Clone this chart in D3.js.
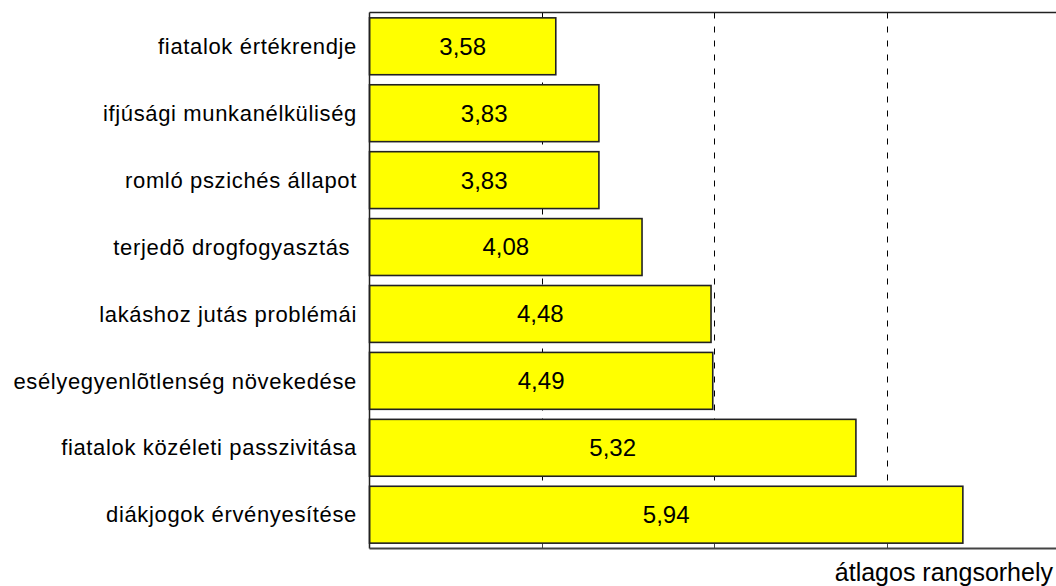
<!DOCTYPE html>
<html><head><meta charset="utf-8">
<script src="https://cdn.jsdelivr.net/npm/d3@7"></script>
<style>body{margin:0;background:#fff}svg{display:block;font-family:"Liberation Sans",Arial,sans-serif}</style>
</head><body>
<script>
const categories = ["fiatalok értékrendje","ifjúsági munkanélküliség","romló pszichés állapot","terjedõ drogfogyasztás ","lakáshoz jutás problémái","esélyegyenlõtlenség növekedése","fiatalok közéleti passzivitása","diákjogok érvényesítése"];
const values = [3.58,3.83,3.83,4.08,4.48,4.49,5.32,5.94];
const valueLabels = ["3,58","3,83","3,83","4,08","4,48","4,49","5,32","5,94"];
const gridValues = [3.5,4.5,5.5];
const xTitle = "átlagos rangsorhely";

const W=1056,H=586;
const L=369.5,R=1056,T=12.5,B=548.5;
const svg=d3.select("body").append("svg").attr("width",W).attr("height",H);
const x=d3.scaleLinear().domain([2.5,6.48]).range([L,R]);
const y=d3.scaleBand().domain(categories).range([T,B]).paddingInner(0.15).paddingOuter(0.08);

// grid
svg.append("g").selectAll("line").data(gridValues).join("line")
  .attr("x1",d=>Math.round(x(d))+0.5).attr("x2",d=>Math.round(x(d))+0.5)
  .attr("y1",T).attr("y2",B).attr("stroke","#000").attr("stroke-width",1).attr("stroke-dasharray","6,8");
// ticks on bottom
svg.append("g").selectAll("line").data(gridValues).join("line")
  .attr("x1",d=>Math.round(x(d))+0.5).attr("x2",d=>Math.round(x(d))+0.5)
  .attr("y1",B-5).attr("y2",B).attr("stroke","#444").attr("stroke-width",1);

// bars
svg.append("g").selectAll("rect").data(values).join("rect")
  .attr("x",x(2.5)).attr("y",(d,i)=>y(categories[i]))
  .attr("width",d=>x(d)-x(2.5)).attr("height",y.bandwidth())
  .attr("fill","#ffff00").attr("stroke","#222").attr("stroke-width",1.6);

svg.append("g").selectAll("text").data(values).join("text")
  .attr("x",d=>(x(2.5)+x(d))/2).attr("y",(d,i)=>y(categories[i])+y.bandwidth()/2)
  .attr("dy","0.35em").attr("text-anchor","middle").attr("font-size",24).attr("fill","#000")
  .text((d,i)=>valueLabels[i]);

// category labels
svg.append("g").selectAll("text").data(categories).join("text")
  .attr("x",357).attr("y",d=>y(d)+y.bandwidth()/2).attr("dy","0.35em")
  .attr("text-anchor","end").attr("font-size",22).attr("letter-spacing","0.65px").attr("fill","#000")
  .style("white-space","pre").attr("xml:space","preserve").text(d=>d);

// frame
svg.append("line").attr("x1",L).attr("x2",W).attr("y1",T).attr("y2",T).attr("stroke","#222").attr("stroke-width",1.5);
svg.append("line").attr("x1",L).attr("x2",L).attr("y1",T).attr("y2",B).attr("stroke","#222").attr("stroke-width",1.5);
svg.append("line").attr("x1",L).attr("x2",W).attr("y1",B).attr("y2",B).attr("stroke","#444").attr("stroke-width",2);

svg.append("text").attr("x",1053).attr("y",581).attr("text-anchor","end").attr("font-size",25).attr("fill","#000").text(xTitle);
</script>
</body></html>
